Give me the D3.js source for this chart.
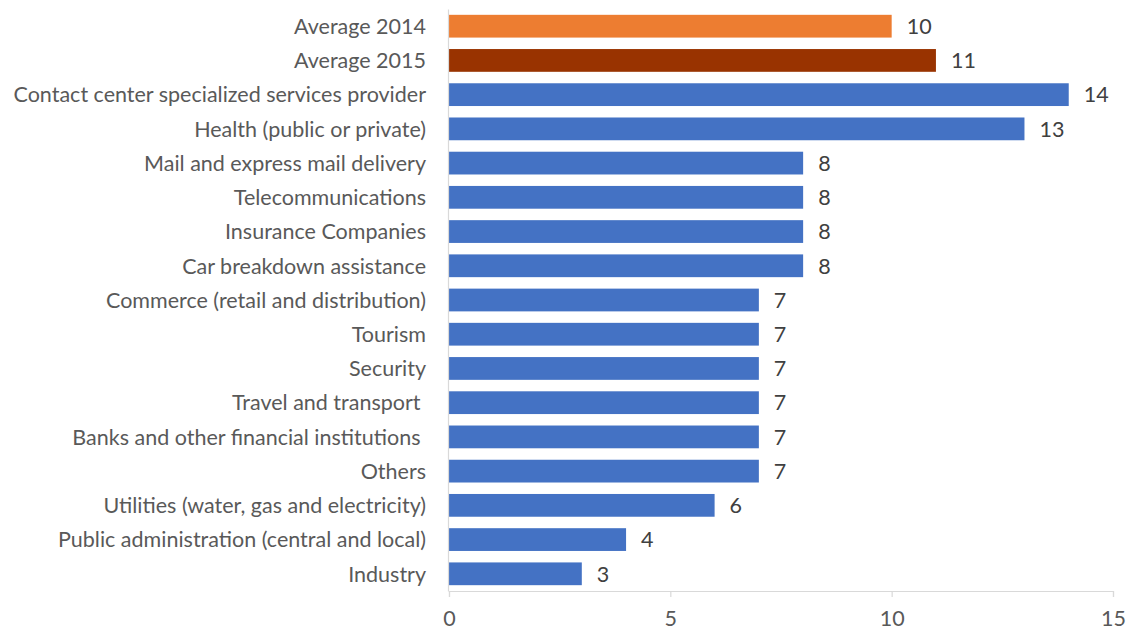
<!DOCTYPE html>
<html>
<head>
<meta charset="utf-8">
<script src="https://cdn.jsdelivr.net/npm/d3@7"></script>
<style>
  html, body { margin: 0; padding: 0; background: #fff; }
  svg text { font-family: Lato, "Open Sans", sans-serif; white-space: pre; }
</style>
</head>
<body>
<svg id="chart" width="1134" height="634"></svg>
<script>
// Sectors, top to bottom
const categories = [
  "Average 2014",
  "Average 2015",
  "Contact center specialized services provider",
  "Health (public or private)",
  "Mail and express mail delivery",
  "Telecommunications",
  "Insurance Companies",
  "Car breakdown assistance",
  "Commerce (retail and distribution)",
  "Tourism",
  "Security",
  "Travel and transport ",
  "Banks and other financial institutions ",
  "Others",
  "Utilities (water, gas and electricity)",
  "Public administration (central and local)",
  "Industry"
];
const values = [10, 11, 14, 13, 8, 8, 8, 8, 7, 7, 7, 7, 7, 7, 6, 4, 3];
const xTicks = [0, 5, 10, 15];

const barColor = d => d === "Average 2014" ? "#ED7D31" : d === "Average 2015" ? "#993300" : "#4472C4";

const svg = d3.select("#chart");
const margin = { left: 449, right: 21, top: 9, bottom: 43 };
const W = 1134, H = 634;
const fontSize = 21.5;

const x = d3.scaleLinear().domain([0, 15]).range([margin.left, W - margin.right]);
const y = d3.scaleBand().domain(categories).range([margin.top, H - margin.bottom]).paddingInner(0.335).paddingOuter(0.17);

const data = categories.map((c, i) => ({ c, v: values[i] }));

// bars
svg.append("g").selectAll("rect").data(data).join("rect")
  .attr("x", x(0))
  .attr("y", d => y(d.c))
  .attr("width", d => x(d.v) - x(0))
  .attr("height", y.bandwidth())
  .attr("fill", d => barColor(d.c));

// value labels
svg.append("g").selectAll("text").data(data).join("text")
  .attr("x", d => x(d.v) + 15)
  .attr("y", d => y(d.c) + y.bandwidth() / 2)
  .attr("dy", "0.36em")
  .attr("font-size", fontSize)
  .attr("fill", "#404040")
  .text(d => d.v);

// category axis
const yAxis = svg.append("g").attr("transform", `translate(${x(0) - 1},0)`)
  .call(d3.axisLeft(y).tickSize(0).tickPadding(22));
yAxis.select(".domain").attr("stroke", "#d9d9d9").attr("stroke-width", 1.2);
yAxis.selectAll("text").attr("font-size", fontSize).attr("fill", "#595959")
  .attr("dy", "0.36em")
  .style("font-family", "Lato, 'Open Sans', sans-serif");

// value axis
const xAxis = svg.append("g").attr("transform", `translate(0,${H - margin.bottom})`)
  .call(d3.axisBottom(x).tickValues(xTicks).tickSize(6).tickSizeOuter(6).tickPadding(14));
xAxis.select(".domain").attr("stroke", "#d9d9d9").attr("stroke-width", 1.2);
xAxis.selectAll(".tick line").attr("stroke", "#d9d9d9").attr("stroke-width", 1.2);
xAxis.selectAll("text").attr("font-size", fontSize).attr("fill", "#595959")
  .style("font-family", "Lato, 'Open Sans', sans-serif");
</script>
</body>
</html>
